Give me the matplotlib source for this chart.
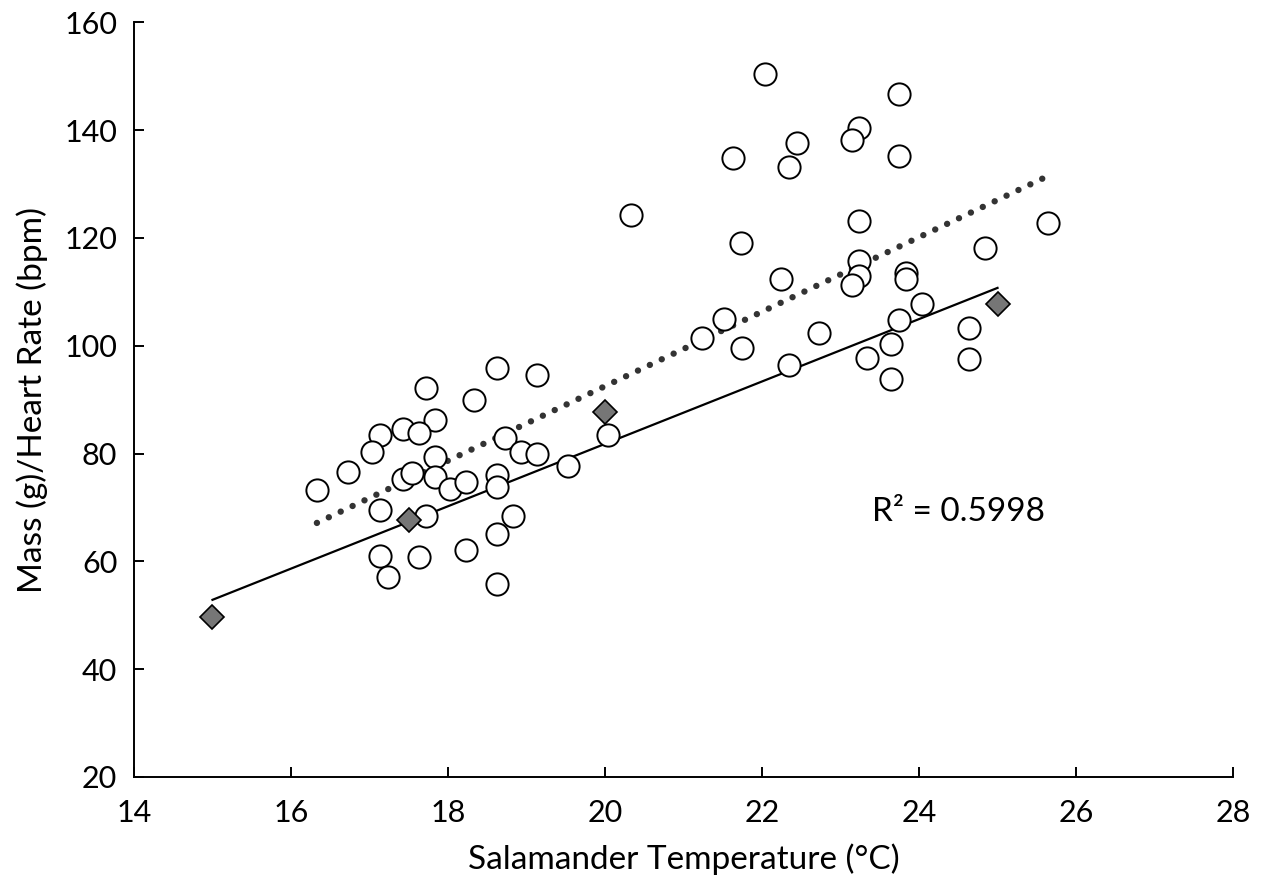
import matplotlib
matplotlib.use("Agg")
import matplotlib.pyplot as plt
import numpy as np

plt.rcParams["font.family"] = ["Lato", "DejaVu Sans"]

# open circles: individual salamanders
temp_obs = [
    18.63, 19.13, 17.72, 18.33, 17.83, 17.13, 17.43, 17.63, 17.03, 18.73,
    18.93, 19.13, 17.83, 16.73, 17.43, 17.54, 17.83, 18.03, 18.23, 18.63,
    18.63, 19.53, 20.04, 16.33, 17.13, 17.72, 18.83, 18.63, 18.23, 17.13,
    17.63, 17.23, 18.63,
    22.04, 23.75, 23.24, 23.14, 22.44, 21.63, 22.34, 23.75, 20.33, 23.24,
    25.64, 21.73, 24.84, 23.24, 23.24, 23.14, 23.83, 23.83, 22.24, 21.52,
    21.24, 22.72, 24.04, 23.75, 24.64,
    21.74, 22.34, 23.34, 23.64, 23.64, 24.64,
]
ratio_obs = [
    95.8, 94.5, 92.1, 89.9, 86.3, 83.5, 84.6, 83.8, 80.3, 82.8,
    80.2, 79.9, 79.4, 76.6, 75.2, 76.3, 75.7, 73.5, 74.8, 76.0,
    73.8, 77.7, 83.5, 73.2, 69.6, 68.4, 68.4, 65.1, 62.1, 61.0,
    60.8, 57.1, 55.8,
    150.4, 146.6, 140.3, 138.2, 137.6, 134.9, 133.2, 135.2, 124.2, 123.1,
    122.8, 119.1, 118.2, 115.7, 112.9, 111.2, 113.5, 112.4, 112.3, 105.0,
    101.5, 102.4, 107.8, 104.7, 103.2,
    99.6, 96.4, 97.8, 100.3, 93.9, 97.6,
]

# grey diamonds
temp_ref = [15.0, 17.5, 20.0, 25.0]
ratio_ref = [49.7, 67.6, 87.7, 107.7]

r2_label = "R² = 0.5998"


def main():
    fig = plt.figure(figsize=(12.64, 8.9), dpi=100)
    ax = fig.add_axes([0.106, 0.127, 0.8695, 0.848])

    x_obs = np.array(temp_obs)
    y_obs = np.array(ratio_obs)
    x_ref = np.array(temp_ref)
    y_ref = np.array(ratio_ref)

    # trendlines (linear fits)
    k_obs = np.polyfit(x_obs, y_obs, 1)
    xs = np.array([x_obs.min(), x_obs.max()])
    ax.plot(xs, np.polyval(k_obs, xs), color="#333333", lw=4.6,
            linestyle=(0, (0.01, 2.05)), dash_capstyle="round", zorder=2)

    k_ref = np.polyfit(x_ref, y_ref, 1)
    xr = np.array([x_ref.min(), x_ref.max()])
    ax.plot(xr, np.polyval(k_ref, xr), color="black", lw=1.6, zorder=2)

    ax.plot(x_obs, y_obs, "o", ms=16, mfc="white", mec="black", mew=1.4,
            linestyle="none", zorder=3)
    ax.plot(x_ref, y_ref, "D", ms=12, mfc="#767676", mec="black", mew=1.2,
            linestyle="none", zorder=4)

    ax.text(24.5, 69.1, r2_label, fontsize=24, ha="center", va="center")

    ax.set_xlim(14, 28)
    ax.set_ylim(20, 160)
    ax.set_xticks(np.arange(14, 29, 2))
    ax.set_yticks(np.arange(20, 161, 20))
    ax.tick_params(direction="in", length=7, width=1.4, labelsize=22)
    ax.tick_params(axis="x", pad=16)
    ax.tick_params(axis="y", pad=12)
    for side in ("top", "right"):
        ax.spines[side].set_visible(False)
    for side in ("left", "bottom"):
        ax.spines[side].set_linewidth(1.4)

    ax.set_xlabel("Salamander Temperature (°C)", fontsize=24, labelpad=12)
    ax.set_ylabel("Mass (g)/Heart Rate (bpm)", fontsize=24, labelpad=12)

    fig.savefig("out.png", dpi=100)


if __name__ == "__main__":
    main()
